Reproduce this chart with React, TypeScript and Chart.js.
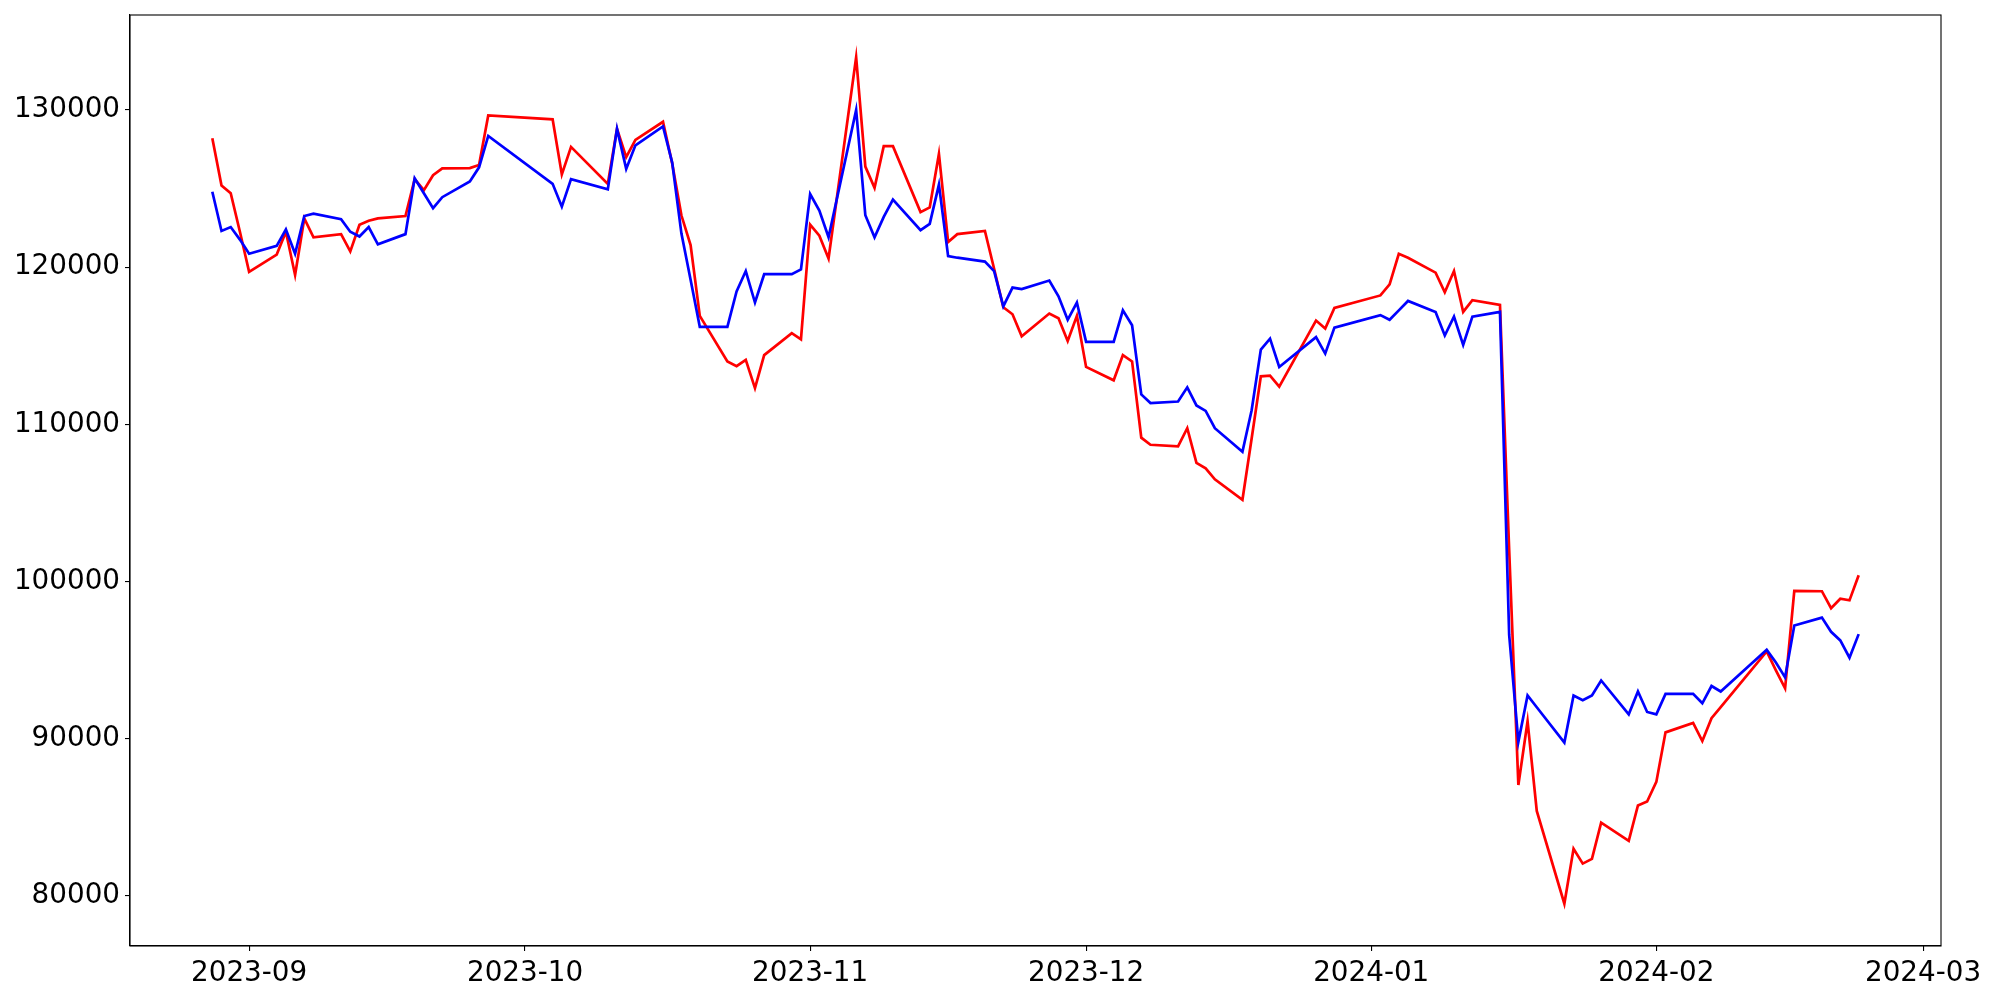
import React, { useEffect, useRef } from "react";
import { Chart, registerables } from "chart.js";

Chart.register(...registerables);

const dates: string[] = [
  "2023-08-28", "2023-08-29", "2023-08-30", "2023-08-31",
  "2023-09-01", "2023-09-04", "2023-09-05", "2023-09-06", "2023-09-07", "2023-09-08",
  "2023-09-11", "2023-09-12", "2023-09-13", "2023-09-14", "2023-09-15",
  "2023-09-18", "2023-09-19", "2023-09-20", "2023-09-21", "2023-09-22",
  "2023-09-25", "2023-09-26", "2023-09-27",
  "2023-10-04", "2023-10-05", "2023-10-06", "2023-10-10", "2023-10-11", "2023-10-12", "2023-10-13",
  "2023-10-16", "2023-10-17", "2023-10-18", "2023-10-19", "2023-10-20",
  "2023-10-23", "2023-10-24", "2023-10-25", "2023-10-26", "2023-10-27", "2023-10-30", "2023-10-31",
  "2023-11-01", "2023-11-02", "2023-11-03", "2023-11-06", "2023-11-07", "2023-11-08", "2023-11-09", "2023-11-10",
  "2023-11-13", "2023-11-14", "2023-11-15", "2023-11-16", "2023-11-17",
  "2023-11-20", "2023-11-21", "2023-11-22", "2023-11-23", "2023-11-24",
  "2023-11-27", "2023-11-28", "2023-11-29", "2023-11-30",
  "2023-12-01", "2023-12-04", "2023-12-05", "2023-12-06", "2023-12-07", "2023-12-08",
  "2023-12-11", "2023-12-12", "2023-12-13", "2023-12-14", "2023-12-15",
  "2023-12-18", "2023-12-19", "2023-12-20", "2023-12-21", "2023-12-22",
  "2023-12-26", "2023-12-27", "2023-12-28",
  "2024-01-02", "2024-01-03", "2024-01-04", "2024-01-05",
  "2024-01-08", "2024-01-09", "2024-01-10", "2024-01-11", "2024-01-12",
  "2024-01-15", "2024-01-16", "2024-01-17", "2024-01-18", "2024-01-19",
  "2024-01-22", "2024-01-23", "2024-01-24", "2024-01-25", "2024-01-26",
  "2024-01-29", "2024-01-30", "2024-01-31",
  "2024-02-01", "2024-02-02", "2024-02-05", "2024-02-06", "2024-02-07", "2024-02-08",
  "2024-02-13", "2024-02-14", "2024-02-15", "2024-02-16",
  "2024-02-19", "2024-02-20", "2024-02-21", "2024-02-22", "2024-02-23",
];

const redValues: number[] = [
  128200, 125200, 124700, 122250,
  119700, 120800, 122250, 119500, 123100, 121900,
  122100, 121000, 122700, 122950, 123100,
  123250, 125600, 124900, 125850, 126280,
  126300, 126500, 129650,
  129400, 125900, 127650, 125300, 128800, 127000, 128100,
  129250, 126600, 123300, 121400, 116900,
  114000, 113700, 114100, 112300, 114400, 115800, 115400,
  122700, 122000, 120550, 133350, 126400, 125050, 127700, 127700,
  123500, 123800, 127200, 121600, 122100,
  122300, 119900, 117450, 117000, 115600,
  117050, 116750, 115300, 116900,
  113650, 112800, 114400, 114000, 109150, 108700,
  108600, 109750, 107550, 107200, 106500,
  105200, 109100, 113050, 113100, 112400,
  116600, 116100, 117400,
  118200, 118900, 120850, 120600,
  119650, 118400, 119750, 117150, 117900,
  117600, 102000, 87050, 91100, 85400,
  79500, 83000, 82050, 82350, 84650,
  83500, 85750, 86000,
  87250, 90400, 91000, 89850, 91300, 92000,
  95550, 94350, 93200, 99400,
  99380, 98300, 98900, 98800, 100400,
];

const blueValues: number[] = [
  124800, 122300, 122550, 121750,
  120850, 121350, 122400, 120850, 123250, 123400,
  123050, 122250, 121950, 122550, 121450,
  122100, 125650, 124700, 123750, 124450,
  125450, 126350, 128350,
  125300, 123850, 125600, 124950, 128800, 126250, 127750,
  128950, 126650, 122150, 119200, 116200,
  116200, 118450, 119750, 117750, 119550, 119550, 119850,
  124650, 123600, 121900, 130000, 123300, 121900, 123200, 124300,
  122350, 122750, 125250, 120700, 120600,
  120350, 119750, 117500, 118700, 118600,
  119150, 118150, 116650, 117750,
  115250, 115250, 117250, 116300, 111900, 111350,
  111450, 112350, 111200, 110850, 109750,
  108250, 110900, 114750, 115450, 113650,
  115550, 114500, 116150,
  116950, 116650, 117250, 117850,
  117150, 115650, 116850, 115050, 116850,
  117150, 96600, 89800, 92750, 92000,
  89750, 92750, 92450, 92750, 93700,
  91550, 93000, 91700,
  91550, 92850, 92850, 92250, 93350, 93000,
  95650, 94850, 93900, 97200,
  97700, 96800, 96250, 95150, 96650,
];

const monthLabels: string[] = ["2023-09", "2023-10", "2023-11", "2023-12", "2024-01", "2024-02", "2024-03"];
const yTickValues: number[] = [80000, 90000, 100000, 110000, 120000, 130000];

const EPOCH = Date.UTC(2023, 8, 1);
function toDay(s: string): number {
  const [y, m, d] = s.split("-").map(Number);
  return (Date.UTC(y, m - 1, d || 1) - EPOCH) / 86400000;
}

const FONT = { family: "'DejaVu Sans', sans-serif", size: 27.8 };

const framePlugin = {
  id: "frame",
  afterDraw(chart: any) {
    const { ctx, chartArea } = chart;
    ctx.save();
    ctx.strokeStyle = "#000";
    ctx.lineWidth = 1.1;
    ctx.strokeRect(chartArea.left, chartArea.top, chartArea.right - chartArea.left, chartArea.bottom - chartArea.top);
    ctx.restore();
  },
};

export default function App() {
  const ref = useRef<HTMLCanvasElement | null>(null);

  useEffect(() => {
    if (!ref.current) return;
    const xs = dates.map(toDay);
    const xMin0 = Math.min(...xs);
    const xMax0 = Math.max(...xs);
    const xPad = (xMax0 - xMin0) * 0.05;
    const all = [...redValues, ...blueValues];
    const yMin0 = Math.min(...all);
    const yMax0 = Math.max(...all);
    const yPad = (yMax0 - yMin0) * 0.05;
    const monthPos = monthLabels.map((l) => toDay(l + "-01"));

    const chart = new Chart(ref.current, {
      type: "line",
      data: {
        datasets: [
          {
            label: "blue",
            data: xs.map((x, i) => ({ x, y: blueValues[i] })),
            borderColor: "#0000ff",
            backgroundColor: "#0000ff",
            borderWidth: 2.7,
            pointRadius: 0,
            tension: 0,
            fill: false,
          },
          {
            label: "red",
            data: xs.map((x, i) => ({ x, y: redValues[i] })),
            borderColor: "#ff0000",
            backgroundColor: "#ff0000",
            borderWidth: 2.7,
            pointRadius: 0,
            tension: 0,
            fill: false,
          },
        ],
      },
      options: {
        responsive: false,
        animation: false,
        devicePixelRatio: 1,
        layout: { padding: { left: 0, top: 15, right: 59, bottom: 0 } },
        plugins: { legend: { display: false }, tooltip: { enabled: false } },
        scales: {
          x: {
            type: "linear",
            min: xMin0 - xPad,
            max: xMax0 + xPad,
            afterBuildTicks: (s: any) => {
              s.ticks = monthPos.map((v) => ({ value: v }));
            },
            afterFit: (s: any) => {
              s.height = 54;
              s.paddingLeft = 0;
              s.paddingRight = 0;
            },
            ticks: {
              autoSkip: false,
              maxRotation: 0,
              minRotation: 0,
              color: "#000",
              font: FONT,
              padding: 6,
              callback: (_v: any, i: number) => monthLabels[i],
            },
            grid: { display: true, drawOnChartArea: false, drawTicks: true, tickLength: 5, color: "#000", lineWidth: 1.1 },
            border: { display: true, color: "#000", width: 1.1 },
          },
          y: {
            type: "linear",
            min: yMin0 - yPad,
            max: yMax0 + yPad,
            afterBuildTicks: (s: any) => {
              s.ticks = yTickValues.map((v) => ({ value: v }));
            },
            afterFit: (s: any) => {
              s.width = 130;
              s.paddingTop = 0;
              s.paddingBottom = 0;
            },
            ticks: {
              autoSkip: false,
              color: "#000",
              font: FONT,
              padding: 5,
              callback: (v: any) => String(v),
            },
            grid: { display: true, drawOnChartArea: false, drawTicks: true, tickLength: 5, color: "#000", lineWidth: 1.1 },
            border: { display: true, color: "#000", width: 1.1 },
          },
        },
      },
      plugins: [framePlugin],
    } as any);
    return () => chart.destroy();
  }, []);

  return (
    <div style={{ position: "absolute", left: 0, top: 0, width: 2000, height: 1000, background: "#fff" }}>
      <canvas ref={ref} width={2000} height={1000} style={{ display: "block" }} />
    </div>
  );
}
